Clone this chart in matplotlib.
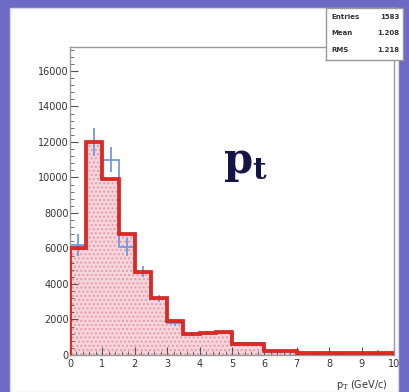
import matplotlib
matplotlib.use("Agg")
import matplotlib.pyplot as plt
from matplotlib.patches import Rectangle
import numpy as np

# Data
bin_edges = [0, 0.5, 1.0, 1.5, 2.0, 2.5, 3.0, 3.5, 4.0, 4.5, 5.0, 6.0, 7.0, 8.0, 9.0, 10.0]
mc_counts = [6000, 12000, 9900, 6800, 4700, 3200, 1900, 1200, 1250, 1300, 600, 200, 100, 100, 100]
data_counts = [6200, 12000, 11000, 6100, 4700, 3200, 1800, 1200, 1250, 1300, 650, 200, 100, 100, 100]
data_errors = [600, 800, 700, 500, 300, 200, 150, 120, 120, 120, 100, 60, 40, 40, 200]
x_ticks = [0, 1, 2, 3, 4, 5, 6, 7, 8, 9, 10]
y_ticks = [0, 2000, 4000, 6000, 8000, 10000, 12000, 14000, 16000]
stats_labels = ["Entries", "Mean", "RMS"]
stats_values = ["1583", "1.208", "1.218"]

plt.rcParams["mathtext.fontset"] = "dejavuserif"

W, H = 410, 392
fig = plt.figure(figsize=(W / 100, H / 100), dpi=100)
fig.patch.set_facecolor("#6d69c4")

# white panel
fig.patches.append(Rectangle((10 / W, 0), 388 / W, (H - 8) / H, transform=fig.transFigure,
                             facecolor="white", edgecolor="#d8d8e8", lw=1, zorder=-5))

ax = fig.add_axes([70 / W, (H - 355) / H, (394 - 70) / W, (355 - 47) / H])
ax.set_facecolor("white")
ax.set_zorder(1)

edges = np.array(bin_edges)
mc = np.array(mc_counts)
dc = np.array(data_counts)
centers = (edges[:-1] + edges[1:]) / 2

ax.stairs(mc, edges, fill=True, facecolor="#f6d6dc", edgecolor="#e89aa8", hatch="....", lw=0, zorder=1)
ax.stairs(dc, edges, color="#6f9be0", lw=1.3, zorder=2)
ax.errorbar(centers, dc, yerr=data_errors, fmt="none", ecolor="#6f9be0", elinewidth=1.3, zorder=2)
ax.stairs(mc, edges, color="#b82020", lw=2.6, zorder=3)
ax.stairs(mc, edges, color="#e8261e", lw=1.6, zorder=3)

ax.set_xlim(0, 10)
ax.set_ylim(0, 17350)
ax.set_xticks(x_ticks)
ax.set_yticks(y_ticks)
ax.set_xticklabels([str(t) for t in x_ticks])
ax.set_yticklabels([str(t) for t in y_ticks])
ax.xaxis.set_minor_locator(matplotlib.ticker.MultipleLocator(0.2))
ax.yaxis.set_minor_locator(matplotlib.ticker.MultipleLocator(400))
ax.tick_params(which="both", direction="in", colors="#555555", labelcolor="#333333", labelsize=7)
ax.tick_params(which="major", length=6, width=0.8)
ax.tick_params(which="minor", length=3, width=0.6)
ax.tick_params(axis="y", pad=1)
ax.tick_params(axis="x", pad=3)
for s in ax.spines.values():
    s.set_color("#999999")
    s.set_linewidth(1.0)

ax.text(0.98, -0.075, "p$_{\\mathrm{T}}$ (GeV/c)", transform=ax.transAxes, ha="right", va="top",
        fontsize=7, color="#333333")

ax.text(0.54, 0.625, r"$\mathbf{p}_{\mathbf{t}}$", transform=ax.transAxes, ha="center", va="center",
        fontsize=30, color="#151545")

# stats box
bx0, by0, bw, bh = 326 / W, (H - 60) / H, 77 / W, 52 / H
sax = fig.add_axes([bx0, by0, bw, bh])
sax.set_zorder(5)
sax.set_xticks([])
sax.set_yticks([])
for s in sax.spines.values():
    s.set_color("#999999")
    s.set_linewidth(1.0)
for i, (lab, val) in enumerate(zip(stats_labels, stats_values)):
    yy = 0.82 - i * 0.31
    sax.text(0.07, yy, lab, fontsize=5, color="#333333", va="center", ha="left", weight="bold")
    sax.text(0.95, yy, val, fontsize=5, color="#333333", va="center", ha="right", weight="bold")

fig.savefig("out.png", dpi=100, facecolor=fig.get_facecolor())
